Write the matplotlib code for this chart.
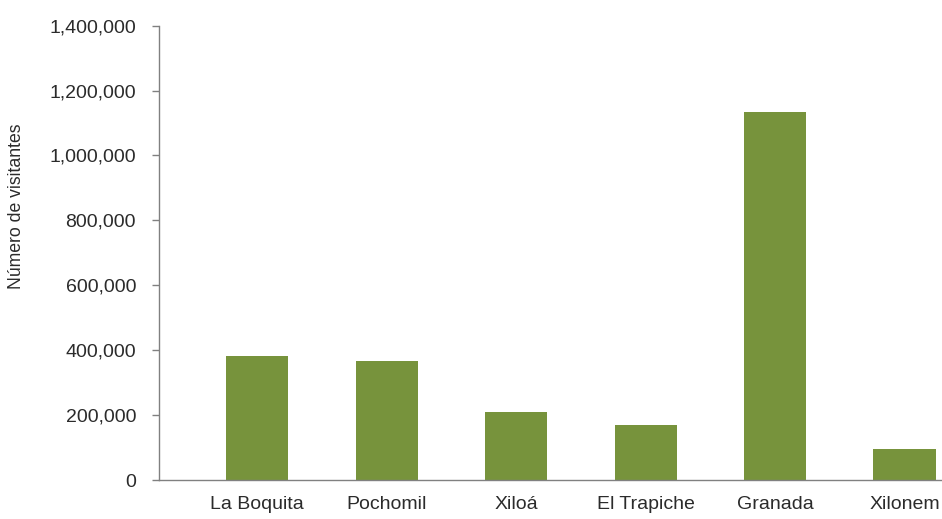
import matplotlib
matplotlib.use("Agg")
import matplotlib.pyplot as plt
from matplotlib.ticker import FuncFormatter

categories = ["La Boquita", "Pochomil", "Xiloá", "El Trapiche", "Granada", "Xilonem"]
visitors = [383000, 367500, 210500, 168500, 1133000, 95500]
y_ticks = [0, 200000, 400000, 600000, 800000, 1000000, 1200000, 1400000]

plt.rcParams['font.family'] = ['Liberation Sans', 'DejaVu Sans']

fig = plt.figure(figsize=(9.42, 5.19), dpi=100)
ax = fig.add_axes([0.1688, 0.0751, 0.8312, 0.8754])

x = list(range(len(categories)))
ax.bar(x, visitors, width=0.48, color="#77933C", zorder=2)

ax.set_ylim(0, 1400000)
ax.set_xlim(-0.76, 5.29)
ax.set_yticks(y_ticks)
ax.yaxis.set_major_formatter(FuncFormatter(lambda v, p: f"{int(v):,}"))
ax.set_xticks(x)
ax.set_xticklabels(categories)

for s in ["top", "right"]:
    ax.spines[s].set_visible(False)
for s in ["left", "bottom"]:
    ax.spines[s].set_color("#808080")
    ax.spines[s].set_linewidth(1.0)

ax.tick_params(axis="y", length=5, width=1, color="#808080", pad=11.5,
               labelsize=14, labelcolor="#2b2b2b")
ax.tick_params(axis="x", length=0, pad=11.5, labelsize=14, labelcolor="#2b2b2b")

ax.set_ylabel("Número de visitantes", fontsize=12.7, color="#2b2b2b", va="center")
ax.yaxis.set_label_coords(-0.182, 0.603)

fig.savefig("out.png", dpi=100)
